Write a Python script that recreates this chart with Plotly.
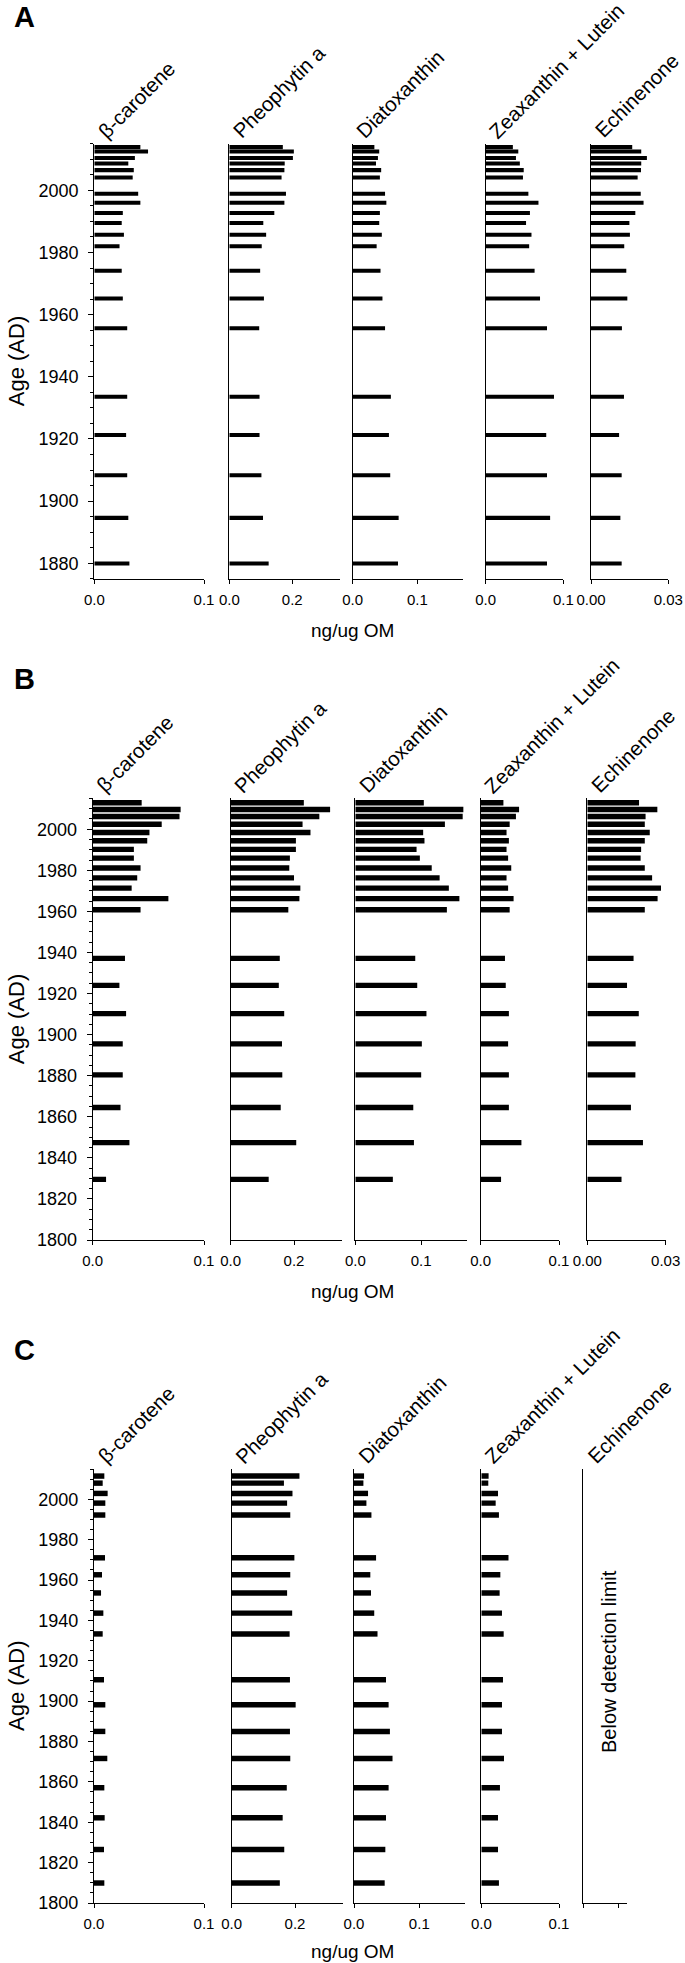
import math
import plotly.graph_objects as go

W, H = 685, 1963

# ---------------- data ----------------
pigments = ["β-carotene", "Pheophytin a", "Diatoxanthin", "Zeaxanthin + Lutein", "Echinenone"]
x_max = [0.1, 0.35, 0.17, 0.1, 0.03]
x_tick_vals = [[0, 0.1], [0, 0.2], [0, 0.1], [0, 0.1], [0, 0.03]]
x_tick_text = [["0.0", "0.1"], ["0.0", "0.2"], ["0.0", "0.1"], ["0.0", "0.1"], ["0.00", "0.03"]]

# Panel A
years_A = [2013.9, 2012.5, 2010.4, 2008.6, 2006.5, 2004.1, 1998.9, 1996.0, 1992.7, 1989.5,
           1985.7, 1982.0, 1974.1, 1965.2, 1955.6, 1933.6, 1921.3, 1908.3, 1894.6, 1879.9]
bcar_A = [0.042, 0.049, 0.037, 0.031, 0.036, 0.035, 0.040, 0.042, 0.026, 0.025,
          0.027, 0.023, 0.025, 0.026, 0.030, 0.030, 0.029, 0.030, 0.031, 0.032]
pheo_A = [0.170, 0.205, 0.202, 0.176, 0.175, 0.166, 0.180, 0.175, 0.143, 0.108,
          0.117, 0.103, 0.098, 0.110, 0.095, 0.096, 0.096, 0.102, 0.107, 0.125]
diat_A = [0.0335, 0.041, 0.039, 0.036, 0.044, 0.042, 0.050, 0.052, 0.042, 0.041,
          0.045, 0.037, 0.043, 0.046, 0.050, 0.059, 0.056, 0.058, 0.071, 0.070]
zeax_A = [0.035, 0.042, 0.039, 0.044, 0.049, 0.048, 0.055, 0.068, 0.057, 0.052,
          0.059, 0.056, 0.063, 0.070, 0.079, 0.088, 0.078, 0.079, 0.083, 0.079]
echi_A = [0.0160, 0.0195, 0.0217, 0.0195, 0.0194, 0.0181, 0.0193, 0.0204, 0.0172, 0.0149,
          0.0151, 0.0129, 0.0137, 0.0141, 0.0120, 0.0128, 0.0109, 0.0119, 0.0114, 0.0119]

# Panel B
years_B = [2012.9, 2009.6, 2006.2, 2002.4, 1998.4, 1994.4, 1990.2, 1985.9, 1981.1, 1976.3,
           1971.3, 1966.2, 1960.8, 1937.1, 1924.0, 1910.2, 1895.5, 1880.4, 1864.5, 1847.4, 1829.5]
bcar_B = [0.044, 0.079, 0.078, 0.062, 0.051, 0.049, 0.037, 0.037, 0.043, 0.040,
          0.035, 0.068, 0.043, 0.029, 0.024, 0.030, 0.027, 0.027, 0.025, 0.033, 0.012]
pheo_B = [0.231, 0.314, 0.280, 0.227, 0.252, 0.206, 0.206, 0.187, 0.185, 0.200,
          0.220, 0.217, 0.182, 0.155, 0.152, 0.169, 0.162, 0.163, 0.158, 0.207, 0.120]
diat_B = [0.104, 0.164, 0.163, 0.136, 0.103, 0.105, 0.093, 0.098, 0.116, 0.128,
          0.142, 0.158, 0.139, 0.091, 0.094, 0.108, 0.101, 0.100, 0.088, 0.089, 0.057]
zeax_B = [0.029, 0.049, 0.045, 0.037, 0.033, 0.036, 0.033, 0.035, 0.039, 0.033,
          0.035, 0.042, 0.037, 0.031, 0.032, 0.036, 0.035, 0.036, 0.036, 0.052, 0.026]
echi_B = [0.0198, 0.0268, 0.0223, 0.0220, 0.0239, 0.0220, 0.0206, 0.0204, 0.0220, 0.0248,
          0.0282, 0.0269, 0.0220, 0.0177, 0.0152, 0.0197, 0.0185, 0.0184, 0.0167, 0.0213, 0.0131]

# Panel C (echinenone below detection limit)
years_C = [2011.5, 2008.0, 2002.9, 1998.1, 1992.2, 1971.0, 1962.6, 1953.6, 1943.6, 1933.3,
           1910.6, 1898.2, 1885.0, 1871.6, 1857.1, 1842.2, 1826.5, 1809.9]
bcar_C = [0.0094, 0.0079, 0.0124, 0.0103, 0.0103, 0.0100, 0.0073, 0.0064, 0.0085, 0.0079,
          0.0091, 0.0103, 0.0103, 0.0121, 0.0094, 0.0097, 0.0091, 0.0094]
pheo_C = [0.214, 0.165, 0.192, 0.175, 0.185, 0.198, 0.185, 0.175, 0.191, 0.183,
          0.184, 0.202, 0.184, 0.185, 0.174, 0.161, 0.166, 0.152]
diat_C = [0.0154, 0.0144, 0.0215, 0.0190, 0.0267, 0.0338, 0.0250, 0.0260, 0.0310, 0.0360,
          0.0490, 0.0530, 0.0550, 0.0590, 0.0530, 0.0490, 0.0480, 0.0470]
zeax_C = [0.0094, 0.0090, 0.0215, 0.0185, 0.0227, 0.0350, 0.0245, 0.0236, 0.0266, 0.0288,
          0.0279, 0.0266, 0.0266, 0.0292, 0.0240, 0.0215, 0.0215, 0.0227]
echi_C = []

# ---------------- layout geometry (pixels) ----------------
panels = [
    dict(letter="A", letter_y=17, top=143.7, bottom=578.8, yrange=[1875, 2015],
         years=years_A, series=[bcar_A, pheo_A, diat_A, zeax_A, echi_A], barw=1.3,
         xdom=[(94.3, 204), (229.3, 339.5), (352.7, 462.7), (485.7, 563.3), (591, 668.3)],
         unit_y=630),
    dict(letter="B", letter_y=679, top=798.4, bottom=1240, yrange=[1800, 2015],
         years=years_B, series=[bcar_B, pheo_B, diat_B, zeax_B, echi_B], barw=2.6,
         xdom=[(92.7, 204), (230.7, 341.5), (355.3, 467.3), (480.7, 559), (587.3, 665.7)],
         unit_y=1291.7),
    dict(letter="C", letter_y=1350, top=1469, bottom=1903, yrange=[1800, 2015],
         years=years_C, series=[bcar_C, pheo_C, diat_C, zeax_C, echi_C], barw=2.7,
         xdom=[(94, 204), (231.7, 342.5), (354, 465), (481.3, 559), (583.3, 627.3)],
         unit_y=1951.7),
]

FONT = "Liberation Sans, Arial, Helvetica, sans-serif"
TITLE_SIZE = 20.5
# approximate Liberation Sans advance widths (em) for title layout
title_em = [4.80, 5.84, 5.56, 8.77, 5.28]


def px_x(p):
    return p / W


def px_y(p):
    return 1 - p / H


fig = go.Figure()
layout = dict(
    template="none",
    width=W, height=H, margin=dict(l=0, r=0, t=0, b=0, pad=0, autoexpand=False),
    paper_bgcolor="white", plot_bgcolor="white", showlegend=False,
    font=dict(family=FONT, color="black"),
)
annotations = []
r2 = math.sqrt(2)

k = 0
for pi, P in enumerate(panels):
    ydom = [px_y(P["bottom"]), px_y(P["top"])]
    for j in range(5):
        k += 1
        xa = "xaxis" if k == 1 else f"xaxis{k}"
        ya = "yaxis" if k == 1 else f"yaxis{k}"
        xref = "x" if k == 1 else f"x{k}"
        yref = "y" if k == 1 else f"y{k}"
        vals = P["series"][j]
        fig.add_trace(go.Bar(
            x=vals, y=P["years"][:len(vals)], orientation="h", width=P["barw"],
            marker=dict(color="black", line=dict(width=0)),
            xaxis=xref, yaxis=yref, hoverinfo="x+y",
        ))
        x0, x1 = P["xdom"][j]
        is_c_echi = (pi == 2 and j == 4)
        if is_c_echi:
            xrange = [0, 0.03 * (x1 - x0) / 35.0]
            tv, tt = [0, 0.03], ["", ""]
        else:
            xrange = [0, x_max[j]]
            tv, tt = x_tick_vals[j], x_tick_text[j]
        layout[xa] = dict(
            domain=[px_x(x0), px_x(x1)], range=xrange, anchor=yref, automargin=False,
            showline=True, linecolor="black", linewidth=1.3, mirror=False,
            showgrid=False, zeroline=False, fixedrange=True,
            tickmode="array", tickvals=tv, ticktext=tt,
            ticks="outside", ticklen=4, tickwidth=1.2, tickcolor="black",
            tickfont=dict(size=15, family=FONT, color="black"),
            ticklabelstandoff=3,
        )
        first = (j == 0)
        ycfg = dict(
            domain=ydom, range=P["yrange"], anchor=xref, automargin=False,
            showline=True, linecolor="black", linewidth=1.3,
            showgrid=False, zeroline=False, fixedrange=True,
        )
        if first:
            ycfg.update(
                tickmode="linear", tick0=1800, dtick=20,
                ticks="outside", ticklen=5, tickwidth=1.2, tickcolor="black",
                showticklabels=True,
                tickfont=dict(size=18, family=FONT, color="black"),
                ticklabelstandoff=6,
                minor=dict(dtick=5, tick0=1800, ticks="outside", ticklen=3,
                           tickwidth=1, tickcolor="black", showgrid=False),
            )
        else:
            ycfg.update(ticks="", showticklabels=False)
        layout[ya] = ycfg

        # rotated pigment title: baseline starts just above the top of the y axis
        L = title_em[j] * TITLE_SIZE
        c = 0.32 * TITLE_SIZE
        xs, ys = x0 + 12, P["top"] - 5
        cx = xs + (L / 2 - c) / r2
        cy = ys - (L / 2 + c) / r2
        annotations.append(dict(
            text=pigments[j], x=px_x(cx), y=px_y(cy),
            xref="paper", yref="paper", xanchor="center", yanchor="middle",
            textangle=-45, showarrow=False,
            font=dict(size=TITLE_SIZE, family=FONT, color="black"),
        ))

    # panel letter
    annotations.append(dict(
        text="<b>" + P["letter"] + "</b>", x=px_x(12), y=px_y(P["letter_y"]),
        xref="paper", yref="paper", xanchor="left", yanchor="middle",
        showarrow=False, font=dict(size=29, family=FONT, color="black"),
    ))
    # y-axis title
    annotations.append(dict(
        text="Age (AD)", x=px_x(16), y=px_y((P["top"] + P["bottom"]) / 2),
        xref="paper", yref="paper", xanchor="center", yanchor="middle",
        textangle=-90, showarrow=False,
        font=dict(size=22, family=FONT, color="black"),
    ))
    # unit label
    annotations.append(dict(
        text="ng/ug OM", x=px_x(353), y=px_y(P["unit_y"]),
        xref="paper", yref="paper", xanchor="center", yanchor="middle",
        showarrow=False, font=dict(size=19, family=FONT, color="black"),
    ))

annotations.append(dict(
    text="Below detection limit", x=px_x(609), y=px_y(1662),
    xref="paper", yref="paper", xanchor="center", yanchor="middle",
    textangle=-90, showarrow=False,
    font=dict(size=20, family=FONT, color="black"),
))

layout["annotations"] = annotations
fig.update_layout(**layout)
fig.write_html(
    "out.html",
    config={"displayModeBar": False},
    post_script="document.body.style.margin='0px';document.body.style.padding='0px';",
)
